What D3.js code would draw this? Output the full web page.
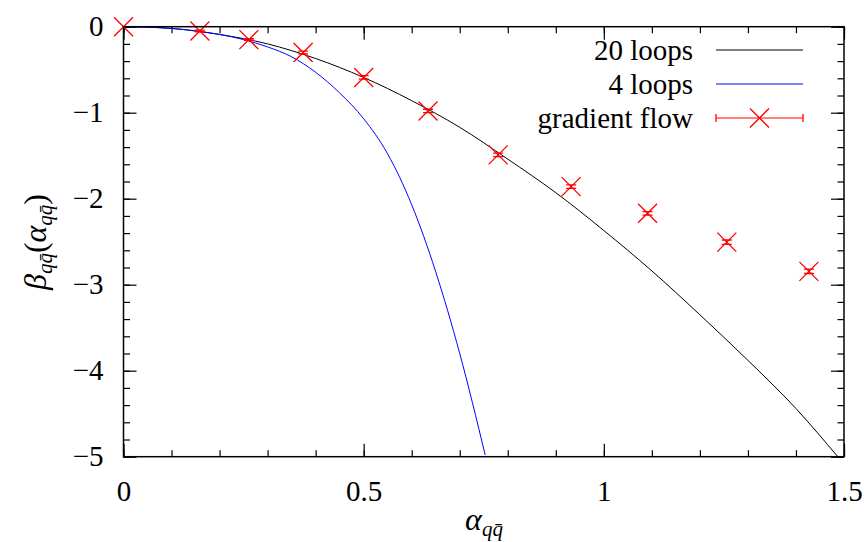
<!DOCTYPE html>
<html>
<head>
<meta charset="utf-8">
<style>
    body { margin: 0; background: white; }
    svg { display: block; }
    .axis .domain { display: none; }
    .axis .tick line { stroke: #000; stroke-width: 1.2px; }
</style>
</head>
<body>
<svg width="864" height="542" font-family="'Liberation Serif', 'Times New Roman', 'DejaVu Serif', serif"></svg>
<script src="https://d3js.org/d3.v7.min.js"></script>
<script>

let serif = "'Liberation Serif', 'Times New Roman', 'DejaVu Serif', serif"

// gradient flow points
let gfAlpha = [0, 0.159, 0.261, 0.374, 0.5, 0.634, 0.78, 0.932, 1.091, 1.256, 1.427]
let gfBeta = [0, -0.05, -0.15, -0.30, -0.59, -0.98, -1.49, -1.86, -2.17, -2.505, -2.845]
let gfErr = [0, 0.01, 0.01, 0.015, 0.02, 0.02, 0.02, 0.02, 0.02, 0.025, 0.025]

// 20 loop curve
let loop20Alpha = [0, 0.1, 0.2, 0.3, 0.4, 0.5, 0.6, 0.7, 0.8, 0.9, 1.0, 1.1, 1.2, 1.3, 1.4, 1.487]
let loop20Beta = [0, -0.02, -0.09, -0.2, -0.37, -0.59, -0.86, -1.17, -1.54, -1.93, -2.37, -2.84, -3.35, -3.88, -4.44, -5.0]

// 4 loop curve
let loop4Alpha = [0, 0.05, 0.1, 0.15, 0.2, 0.25, 0.3, 0.35, 0.4, 0.45, 0.5, 0.55, 0.6, 0.65, 0.7, 0.753]
let loop4Beta = [0, -0.005, -0.02, -0.05, -0.09, -0.15, -0.235, -0.35, -0.53, -0.77, -1.07, -1.48, -2.07, -2.85, -3.8, -4.98]

let xMajor = [0, 0.5, 1, 1.5]
let xMinor = d3.range(0, 1.5001, 0.1)
let yMajor = [0, -1, -2, -3, -4, -5]
let yMinor = d3.range(-5, 0.0001, 0.2)

let svg = d3.select("svg")
let margin = { top: 26.7, right: 20, bottom: 85.3, left: 123.5 }
let width = 864, height = 542

let x = d3.scaleLinear().domain([0, 1.5]).range([margin.left, width - margin.right])
let y = d3.scaleLinear().domain([-5, 0]).range([height - margin.bottom, margin.top])

// ticks on all four sides, pointing in
function addAxis(axis, tx, ty) {
    let g = svg.append("g").attr("class", "axis")
        .attr("transform", `translate(${tx},${ty})`)
        .call(axis)
    g.attr("font-family", serif).attr("font-size", 29)
    g.selectAll("text").style("font-family", serif).style("font-size", "29px").style("fill", "#000")
}
let fmt = d => d3.format("")(d)

addAxis(d3.axisBottom(x).tickValues(xMinor).tickSize(-6.5).tickFormat(""), 0, y(-5))
addAxis(d3.axisBottom(x).tickValues(xMajor).tickSize(-13).tickPadding(24).tickFormat(fmt), 0, y(-5))
addAxis(d3.axisTop(x).tickValues(xMinor).tickSize(-6.5).tickFormat(""), 0, y(0))
addAxis(d3.axisTop(x).tickValues(xMajor).tickSize(-13).tickFormat(""), 0, y(0))
addAxis(d3.axisLeft(y).tickValues(yMinor).tickSize(-6.5).tickFormat(""), x(0), 0)
addAxis(d3.axisLeft(y).tickValues(yMajor).tickSize(-13).tickPadding(20).tickFormat(fmt), x(0), 0)
addAxis(d3.axisRight(y).tickValues(yMinor).tickSize(-6.5).tickFormat(""), x(1.5), 0)
addAxis(d3.axisRight(y).tickValues(yMajor).tickSize(-13).tickFormat(""), x(1.5), 0)

svg.append("clipPath").attr("id", "clip")
    .append("rect")
    .attr("x", x(0)).attr("y", y(0))
    .attr("width", x(1.5) - x(0)).attr("height", y(-5) - y(0))

let line = d3.line()
    .x(d => x(d[0]))
    .y(d => y(d[1]))
    .curve(d3.curveMonotoneX)

let plot = svg.append("g").attr("clip-path", "url(#clip)")

plot.append("path")
    .attr("d", line(d3.zip(loop20Alpha, loop20Beta)))
    .style("fill", "none")
    .style("stroke", "black")
    .style("stroke-width", "1px")

plot.append("path")
    .attr("d", line(d3.zip(loop4Alpha, loop4Beta)))
    .style("fill", "none")
    .style("stroke", "#0000ff")
    .style("stroke-width", "1px")

let gf = d3.zip(gfAlpha, gfBeta, gfErr)
let cs = 9.5   // cross half size
let pts = svg.append("g").style("stroke", "#ff0000").style("stroke-width", "1.3px").style("fill", "none")

gf.forEach(d => {
    let cx = x(d[0]), cy = y(d[1])
    let g = pts.append("g")
    g.append("path").attr("d", `M${cx - cs},${cy - cs}L${cx + cs},${cy + cs}M${cx - cs},${cy + cs}L${cx + cs},${cy - cs}`)
    if (d[2] > 0) {
        let y1 = y(d[1] + d[2]), y2 = y(d[1] - d[2])
        g.append("path").attr("d", `M${cx},${y1}L${cx},${y2}M${cx - 5},${y1}L${cx + 5},${y1}M${cx - 5},${y2}L${cx + 5},${y2}`)
    }
})

// frame
svg.append("rect")
    .attr("x", x(0)).attr("y", y(0))
    .attr("width", x(1.5) - x(0)).attr("height", y(-5) - y(0))
    .style("fill", "none")
    .style("stroke", "black")
    .style("stroke-width", "1.5px")

// legend
let legendNames = ["20 loops", "4 loops", "gradient flow"]
let legendColors = ["#000000", "#0000ff", "#ff0000"]
let legend = svg.append("g")
legendNames.forEach((name, i) => {
    let ly = 50 + i * 34
    legend.append("text")
        .attr("x", 693).attr("y", ly)
        .attr("dy", "0.35em")
        .attr("text-anchor", "end")
        .style("font-family", serif)
        .style("font-size", "29px")
        .text(name)
    legend.append("line")
        .attr("x1", 716).attr("x2", 803)
        .attr("y1", ly).attr("y2", ly)
        .style("stroke", legendColors[i])
        .style("stroke-width", "1px")
    if (i == 2) {
        let mx = 759.5
        legend.append("path")
            .attr("d", `M716,${ly - 4}L716,${ly + 4}M803,${ly - 4}L803,${ly + 4}M${mx - cs},${ly - cs}L${mx + cs},${ly + cs}M${mx - cs},${ly + cs}L${mx + cs},${ly - cs}`)
            .style("stroke", "#ff0000")
            .style("stroke-width", "1.3px")
            .style("fill", "none")
    }
})

// axis titles
let xt = svg.append("text")
    .attr("x", 484).attr("y", 530)
    .attr("text-anchor", "middle")
    .style("font-family", serif)
    .style("font-size", "32px")
xt.append("tspan").style("font-style", "italic").text("α")
xt.append("tspan").attr("dy", 6).style("font-size", "21px").style("font-style", "italic").text("qq\u0304")

let yt = svg.append("text")
    .attr("transform", "translate(46,242) rotate(-90)")
    .attr("text-anchor", "middle")
    .style("font-family", serif)
    .style("font-size", "32px")
yt.append("tspan").style("font-style", "italic").text("β")
yt.append("tspan").attr("dy", 6).style("font-size", "21px").style("font-style", "italic").text("qq\u0304")
yt.append("tspan").attr("dy", -6).text("(")
yt.append("tspan").style("font-style", "italic").text("α")
yt.append("tspan").attr("dy", 6).style("font-size", "21px").style("font-style", "italic").text("qq\u0304")
yt.append("tspan").attr("dy", -6).text(")")

</script>
</body>
</html>
